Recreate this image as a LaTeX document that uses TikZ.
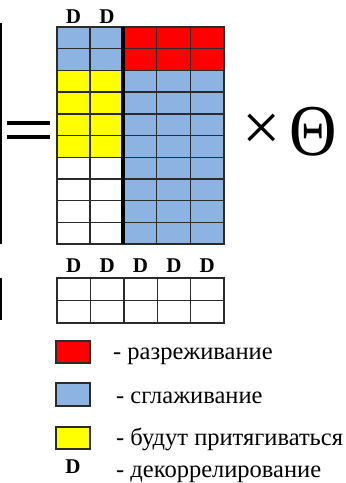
\documentclass[tikz,border=0pt]{standalone}
\usepackage{fontspec}
\setmainfont{Liberation Serif}
\definecolor{azzurro}{HTML}{8DB3E2}
\definecolor{rosso}{HTML}{FF0000}
\definecolor{giallo}{HTML}{FFFF00}
\definecolor{bordo}{HTML}{2B2B2B}
\begin{document}
\begin{tikzpicture}[x=1pt,y=-1pt,
    cella/.style={draw=bordo,line width=1.4pt},
    lettera/.style={font=\fontsize{21}{21}\selectfont\bfseries,inner sep=0pt,anchor=base},
    legenda/.style={font=\fontsize{24.5}{25}\selectfont,inner sep=0pt,anchor=base west}]
        \useasboundingbox (0,0) rectangle (346,483);

        %%%%%%%%%% Sinistra %%%%%%%%%%
        \draw[line width=2pt] (1,23) -- (1,244);
        \draw[line width=2pt] (1,278) -- (1,320);
        \draw[line width=3.5pt] (7,123) -- (50,123);
        \draw[line width=3.5pt] (7,137) -- (50,137);

        %%%%%%%%%% Matrice %%%%%%%%%%
        \foreach \r/\c in {0/azzurro,1/azzurro,2/giallo,3/giallo,4/giallo,
                           5/giallo,6/white,7/white,8/white,9/white}
            \foreach \x in {57,90}
                \filldraw[cella,fill=\c] (\x,{27+21.7*\r}) rectangle ++(33,21.7);

        \foreach \r/\c in {0/rosso,1/rosso,2/azzurro,3/azzurro,4/azzurro,
                           5/azzurro,6/azzurro,7/azzurro,8/azzurro,9/azzurro}
            \foreach \x in {123,156.7,190.4}
                \filldraw[cella,fill=\c] (\x,{27+21.7*\r}) rectangle ++(33.6,21.7);

        \draw[line width=3.8pt] (123,27) -- (123,244);

        %%%%%%%%%% Basso %%%%%%%%%%
        \foreach \x in {57,90.4,123.8,157.2,190.6}
            \foreach \y in {278,300.5}
                \draw[cella] (\x,\y) rectangle ++(33.4,22.5);

        %%%%%%%%%% Lettere %%%%%%%%%%
        \node[lettera] (dA) at (73.5,23) {D};
        \node[lettera] (dB) at (107,23) {D};
        \foreach \x [count=\i] in {73.7,107.1,140.5,173.9,207.3}
            \node[lettera] (d\i) at (\x,272) {D};

        \node[font=\fontsize{68}{68}\selectfont,inner sep=0pt] (per) at (261.5,132) {×};
        \node[font=\fontsize{73}{73}\selectfont,inner sep=0pt,xscale=0.9] (theta) at (313,131.5) {Θ};

        %%%%%%%%%% Legenda %%%%%%%%%%
        \filldraw[cella,fill=rosso] (56,341) rectangle (90,363);
        \filldraw[cella,fill=azzurro] (56,383) rectangle (90,406);
        \filldraw[cella,fill=giallo] (56,427) rectangle (90,449);
        \node[lettera] (dL) at (73,473) {D};

        \node[legenda] (sparse) at (113,359) {- разреживание};
        \node[legenda] (smooth) at (116,403) {- сглаживание};
        \node[legenda] (attract) at (116,445) {- будут притягиваться};
        \node[legenda] (decorr) at (116,477) {- декоррелирование};
    \end{tikzpicture}
\end{document}
